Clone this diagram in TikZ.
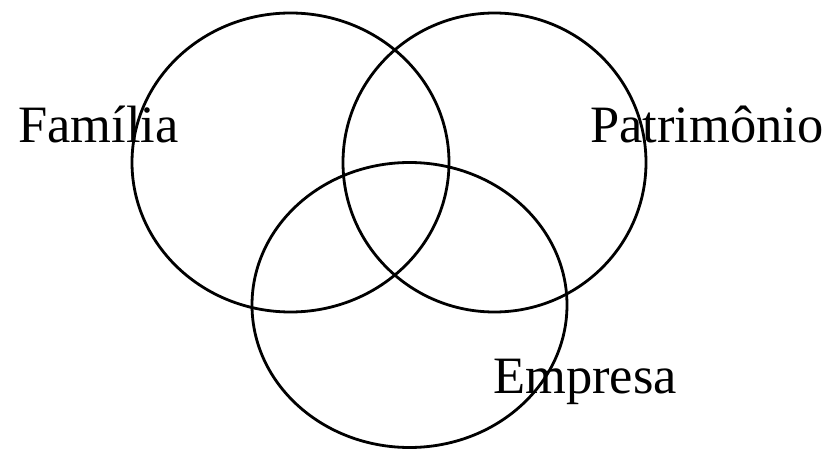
\documentclass[tikz,border=0pt]{standalone}
\usepackage{fontspec}
\setmainfont{Liberation Serif}
\begin{document}
\begin{tikzpicture}[x=1pt,y=-1pt,
  ring/.style={draw=black,line width=2.8pt},
  lbl/.style={anchor=base west,inner sep=0pt,font=\fontsize{52.5}{60}\selectfont}]
\useasboundingbox (0,0) rectangle (827,449);
\node[lbl] (fam) at (18,143) {Família};
\node[lbl] (pat) at (590,143) {Patrimônio};
\node[lbl] (emp) at (493,393) {Empresa};
\draw[ring] (290.5,162.5) ellipse [x radius=158.5, y radius=149.5];
\draw[ring] (494.5,162.5) ellipse [x radius=151.5, y radius=149.5];
\draw[ring] (409.5,305) ellipse [x radius=157.5, y radius=142.5];
\end{tikzpicture}
\end{document}
